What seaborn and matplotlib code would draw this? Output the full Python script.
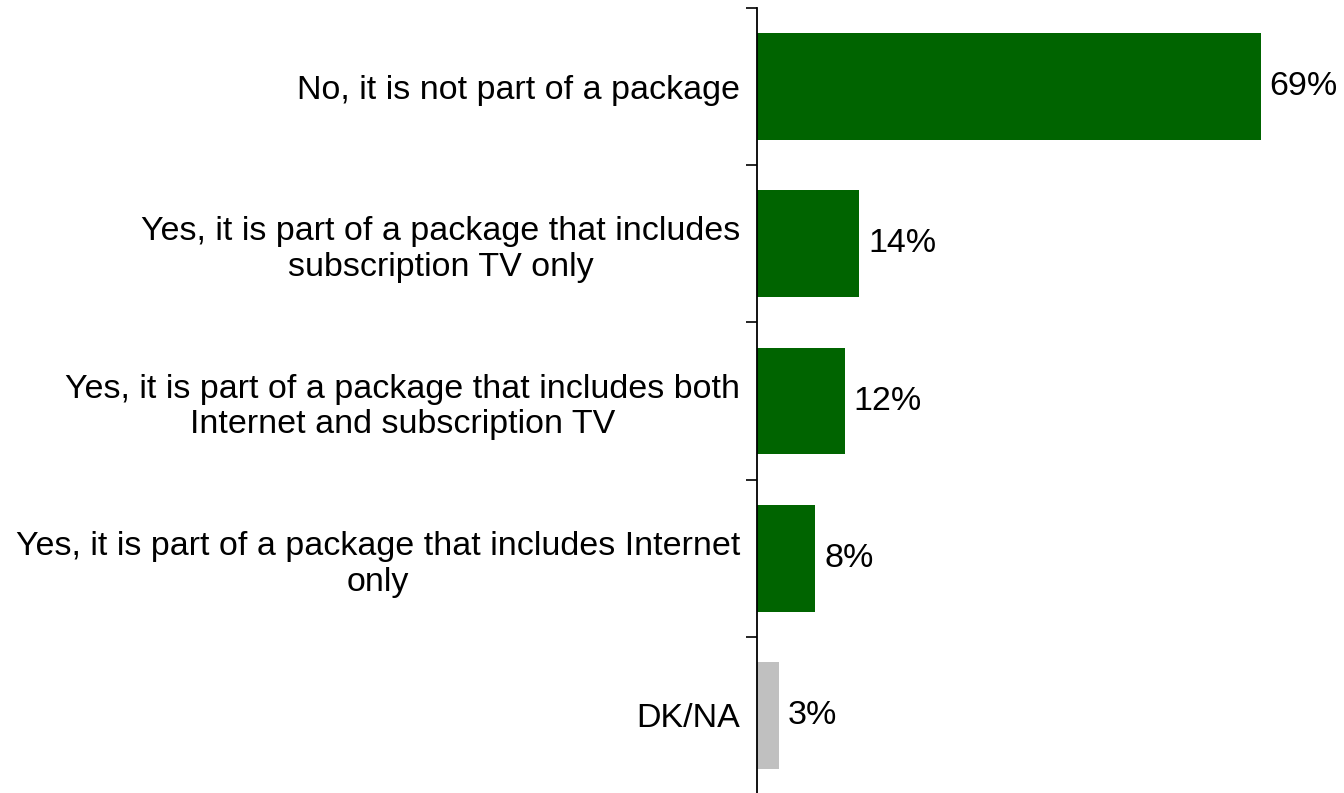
import matplotlib
matplotlib.use("Agg")
import matplotlib.pyplot as plt
import seaborn as sns
import pandas as pd

categories = [
    "No, it is not part of a package",
    "Yes, it is part of a package that includes\nsubscription TV only",
    "Yes, it is part of a package that includes both\nInternet and subscription TV",
    "Yes, it is part of a package that includes Internet\nonly",
    "DK/NA",
]
values = [69, 14, 12, 8, 3]
labels = ["69%", "14%", "12%", "8%", "3%"]
colors = ["#006400", "#006400", "#006400", "#006400", "#C0C0C0"]

sns.set_theme(style="white")
plt.rcParams["font.family"] = ["Liberation Sans", "DejaVu Sans"]

W, H = 1344, 793
fig = plt.figure(figsize=(W / 100, H / 100), dpi=100)
ax = fig.add_axes([757 / W, -1 / H, (W - 757) / W, (794 - 8) / H])

df = pd.DataFrame({"cat": categories, "val": values})
sns.barplot(data=df, x="val", y="cat", hue="cat", palette=colors, legend=False,
            width=0.68, ax=ax, saturation=1, linewidth=0)

ax.set_xlim(0, (W - 757) / 7.30)
ax.set_ylim(len(categories) - 0.5, -0.5)
ax.set_xlabel("")
ax.set_ylabel("")
ax.set_xticks([])

for i, (v, lab) in enumerate(zip(values, labels)):
    ax.annotate(lab, xy=(v, i), xytext=(9 * 0.72, 0), textcoords="offset points",
                ha="left", va="center", fontsize=24.5, color="black")

ax.set_yticks([i for i in range(len(categories))])
ax.set_yticklabels(categories, fontsize=24.5, color="black", linespacing=1.2,
                   multialignment="center")
ax.tick_params(axis="y", length=0, pad=12)
# boundary ticks via minor ticks
ax.set_yticks([i - 0.5 for i in range(len(categories) + 1)], minor=True)
ax.tick_params(axis="y", which="minor", length=8, width=1.2, color="black", direction="out", left=True)

for s in ["top", "right", "bottom"]:
    ax.spines[s].set_visible(False)
ax.spines["left"].set_color("black")
ax.spines["left"].set_linewidth(1.3)

fig.savefig("out.png", dpi=100)
